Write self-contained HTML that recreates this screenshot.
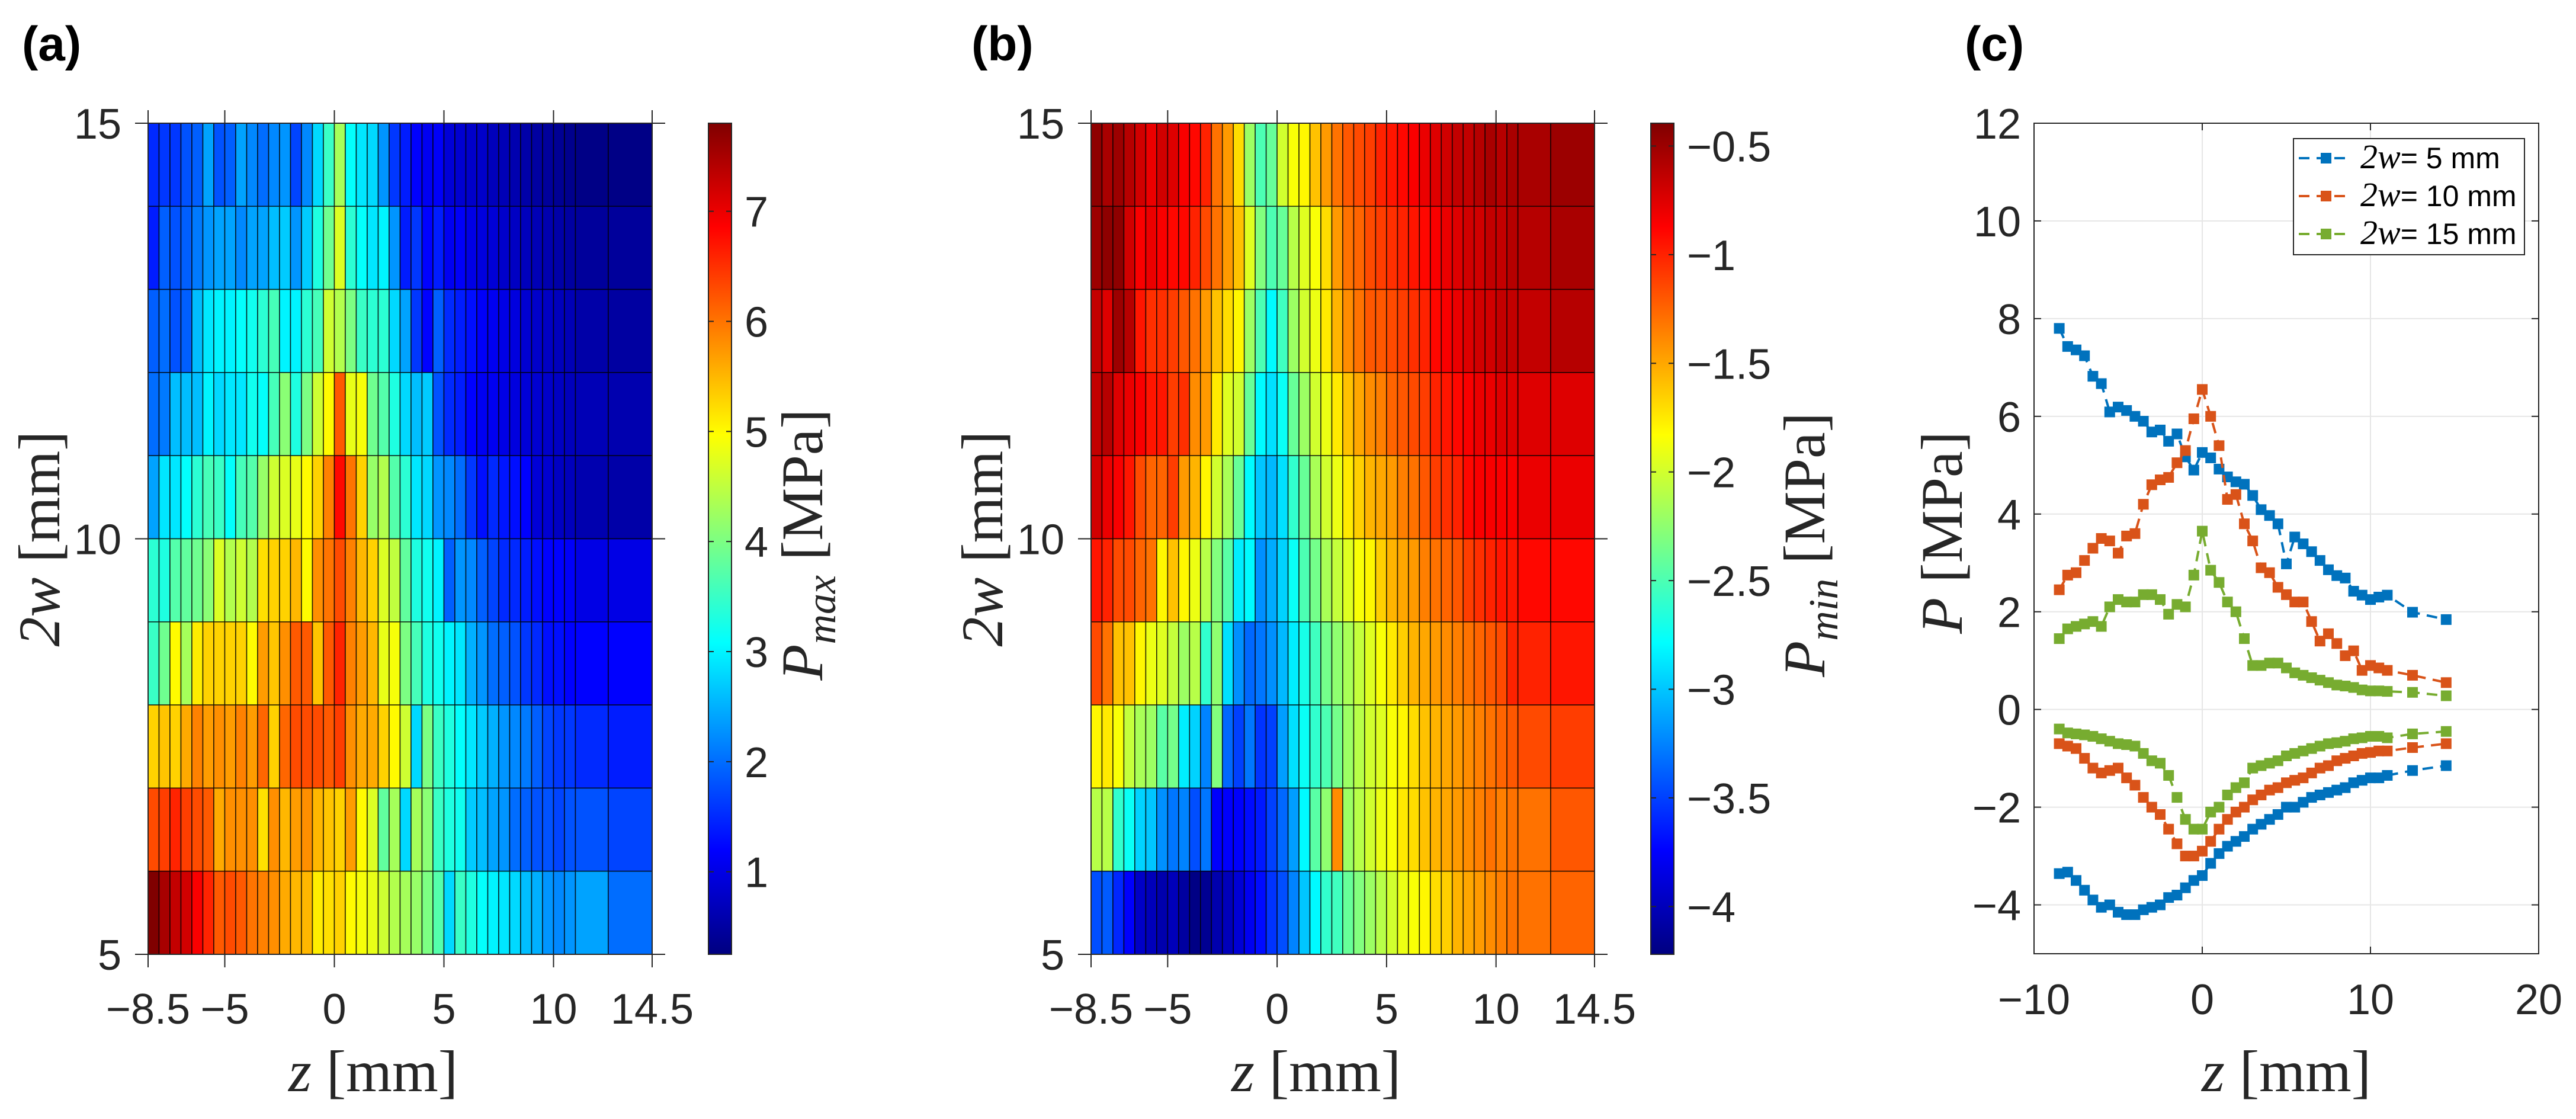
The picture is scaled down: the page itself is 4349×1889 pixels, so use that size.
<!DOCTYPE html>
<html><head><meta charset="utf-8"><style>
html,body{margin:0;padding:0;background:#fff;}
svg{display:block;}
</style></head><body>
<svg id="fig" xmlns="http://www.w3.org/2000/svg" width="4349" height="1889" viewBox="0 0 4349 1889">
<defs>
<linearGradient id="jetgrad" x1="0" y1="1" x2="0" y2="0">
<stop offset="0" stop-color="rgb(0,0,128)"/><stop offset="0.125" stop-color="rgb(0,0,255)"/><stop offset="0.375" stop-color="rgb(0,255,255)"/><stop offset="0.625" stop-color="rgb(255,255,0)"/><stop offset="0.875" stop-color="rgb(255,0,0)"/><stop offset="1" stop-color="rgb(128,0,0)"/>
</linearGradient>
</defs>
<g id="ga"></g>
<g id="gb"></g>
<g id="gc"></g>
<text x="37" y="102" font-family="Liberation Sans, sans-serif" font-weight="bold" font-size="82">(a)</text>
<text x="1640" y="102" font-family="Liberation Sans, sans-serif" font-weight="bold" font-size="82">(b)</text>
<text x="3317" y="102" font-family="Liberation Sans, sans-serif" font-weight="bold" font-size="82">(c)</text>
</svg>
<script>
// ---- data ----
const zEdges = [-8.5,-8,-7.5,-7,-6.5,-6,-5.5,-5,-4.5,-4,-3.5,-3,-2.5,-2,-1.5,-1,-0.5,0,0.5,1,1.5,2,2.5,3,3.5,4,4.5,5,5.5,6,6.5,7,7.5,8,8.5,9,9.5,10,10.5,11,12.5,14.5];
const wEdges = [5,6,7,8,9,10,11,12,13,14,15];
// rows listed from top (2w 14-15) to bottom (2w 5-6)
const pmaxRows = [
[1.5,1.6,1.6,1.8,1.9,2.4,1.8,1.9,2.4,2.2,2.0,2.2,2.3,1.7,2.2,2.8,3.5,4.3,3.1,2.9,2.8,2.3,1.6,1.4,1.2,1.1,1.15,0.9,0.85,0.8,0.8,0.7,0.65,0.6,0.55,0.5,0.45,0.4,0.35,0.3,0.3],
[1.4,1.9,1.8,1.9,2.1,2.3,2.4,2.4,2.2,2.4,2.4,2.6,2.7,2.3,2.7,3.3,3.9,4.7,3.4,3.1,2.9,3.0,2.3,1.4,1.6,1.2,1.4,1.1,1.15,1.0,0.95,0.9,0.8,0.75,0.7,0.65,0.6,0.55,0.5,0.45,0.45],
[1.9,2.0,1.8,1.9,2.6,2.9,3.0,3.0,3.1,3.2,3.4,3.6,3.0,3.0,3.4,3.6,4.6,4.4,4.0,3.5,3.4,3.4,2.8,2.4,1.6,1.2,1.9,1.5,1.4,1.3,1.15,1.1,1.0,0.95,0.85,0.8,0.75,0.7,0.65,0.55,0.5],
[2.0,2.1,2.6,2.6,2.6,3.0,2.8,2.9,2.9,3.2,3.1,3.6,4.1,3.3,4.0,4.6,5.0,6.2,4.8,4.9,3.9,3.7,3.3,2.8,2.6,2.7,1.8,1.5,1.4,1.2,1.1,1.1,1.0,0.95,0.9,0.85,0.8,0.75,0.7,0.65,0.6],
[2.4,2.9,2.9,3.1,3.4,3.6,3.5,3.1,3.6,3.7,4.2,4.6,4.7,4.8,5.0,5.3,5.9,6.8,6.0,5.3,4.2,4.4,3.7,3.4,2.9,2.8,2.3,2.2,2.0,1.6,1.3,1.5,1.35,1.3,1.2,0.9,0.85,0.75,0.7,0.6,0.55],
[3.4,3.3,3.7,3.8,3.9,4.1,4.7,4.4,4.6,4.4,5.2,5.3,5.3,5.5,5.0,5.8,6.0,6.3,5.9,5.5,5.3,4.7,4.5,3.8,3.3,3.2,3.0,1.9,2.3,2.2,1.9,1.7,1.5,1.5,1.4,1.3,1.2,1.2,1.15,1.0,1.0],
[3.5,3.9,5.0,4.3,5.1,5.3,5.3,5.3,5.3,5.0,5.7,5.4,5.8,6.2,6.2,5.4,6.2,6.6,5.9,5.7,5.5,4.8,4.9,4.0,3.6,3.3,3.2,3.0,2.9,2.5,2.3,2.0,1.9,1.8,1.6,1.5,1.3,1.3,1.2,1.2,1.2],
[5.3,5.4,5.3,5.6,5.9,5.7,5.8,5.7,5.9,5.7,6.1,5.3,6.1,6.3,6.3,6.3,6.2,6.4,5.8,5.6,5.6,5.3,5.0,4.6,2.8,4.0,3.5,3.3,3.1,2.9,2.7,2.5,2.3,2.2,2.1,1.9,1.7,1.6,1.6,1.5,1.4],
[6.3,6.4,6.6,6.4,6.3,6.2,5.6,5.8,5.8,5.8,5.2,5.8,5.5,5.7,5.8,5.5,5.4,5.3,5.7,5.0,4.7,3.8,4.3,2.8,4.3,4.1,3.5,3.3,3.2,2.7,2.6,2.4,2.3,2.0,1.9,1.8,1.8,1.7,1.8,1.8,1.7],
[7.8,7.5,7.3,7.2,6.9,6.6,6.2,6.3,6.2,6.0,5.9,5.8,5.6,5.5,5.5,5.1,5.2,5.3,5.0,4.9,4.8,4.6,4.4,4.3,4.2,4.0,3.7,2.8,3.5,3.3,3.1,3.0,2.9,2.8,2.6,2.5,2.3,2.2,2.3,2.4,2.0]
];
const pminRows = [
[-0.45,-0.55,-0.5,-0.6,-0.7,-0.8,-0.7,-0.75,-0.85,-0.9,-1.0,-1.3,-1.45,-1.7,-2.2,-2.5,-2.4,-2.0,-1.85,-1.8,-1.6,-1.45,-1.3,-1.2,-1.15,-1.1,-1.0,-0.95,-0.9,-0.85,-0.8,-0.75,-0.7,-0.65,-0.65,-0.6,-0.55,-0.6,-0.55,-0.55,-0.5],
[-0.5,-0.45,-0.45,-0.7,-0.85,-0.8,-0.85,-0.9,-0.9,-1.0,-1.15,-1.3,-1.45,-1.6,-1.95,-2.3,-2.5,-2.4,-2.1,-1.95,-1.85,-1.7,-1.45,-1.3,-1.25,-1.15,-1.1,-1.05,-1.0,-0.95,-0.9,-0.85,-0.8,-0.75,-0.7,-0.7,-0.65,-0.65,-0.6,-0.6,-0.55],
[-0.65,-0.75,-0.5,-0.6,-0.95,-1.05,-1.05,-1.1,-1.2,-1.3,-1.45,-1.6,-1.7,-1.8,-2.2,-2.5,-2.8,-2.55,-2.2,-2.0,-1.9,-1.75,-1.55,-1.4,-1.3,-1.2,-1.2,-1.15,-1.1,-1.05,-1.0,-0.9,-0.85,-0.8,-0.75,-0.7,-0.7,-0.65,-0.65,-0.65,-0.6],
[-0.65,-0.6,-0.75,-0.8,-0.85,-0.95,-0.95,-1.1,-1.05,-1.4,-1.45,-1.75,-1.95,-2.0,-2.4,-2.8,-2.9,-2.75,-2.4,-2.2,-2.0,-1.9,-1.75,-1.6,-1.5,-1.4,-1.35,-1.25,-1.2,-1.15,-1.1,-1.0,-0.95,-0.9,-0.85,-0.8,-0.8,-0.75,-0.75,-0.75,-0.75],
[-0.7,-0.8,-0.85,-0.95,-1.15,-1.25,-1.25,-1.1,-1.45,-1.55,-1.8,-2.0,-2.15,-2.4,-2.8,-3.0,-3.05,-2.9,-2.6,-2.4,-2.15,-2.0,-1.9,-1.75,-1.65,-1.55,-1.5,-1.45,-1.35,-1.3,-1.2,-1.1,-1.05,-1.0,-0.9,-0.85,-0.85,-0.85,-0.85,-0.8,-0.8],
[-0.95,-1.0,-1.15,-1.15,-1.25,-1.3,-1.8,-1.6,-1.8,-1.9,-2.1,-2.3,-2.45,-2.85,-2.8,-3.2,-3.1,-2.95,-2.75,-2.5,-2.35,-2.15,-2.05,-1.95,-1.85,-1.8,-1.65,-1.55,-1.5,-1.45,-1.35,-1.3,-1.25,-1.2,-1.1,-1.05,-1.0,-0.95,-0.95,-0.9,-0.9],
[-1.15,-1.3,-1.6,-1.6,-1.8,-1.9,-1.95,-2.05,-2.2,-2.1,-2.6,-2.25,-2.9,-3.2,-3.35,-3.3,-3.2,-3.05,-2.85,-2.7,-2.55,-2.35,-2.25,-2.15,-2.05,-1.95,-1.85,-1.75,-1.65,-1.55,-1.5,-1.45,-1.4,-1.35,-1.3,-1.25,-1.2,-1.15,-1.0,-1.0,-0.95],
[-1.8,-1.75,-1.85,-2.05,-2.15,-2.2,-2.45,-2.35,-2.85,-2.95,-3.25,-2.3,-3.35,-3.5,-3.3,-3.55,-3.5,-3.15,-2.9,-2.75,-2.6,-2.5,-2.35,-2.2,-2.1,-2.0,-1.95,-1.85,-1.8,-1.7,-1.6,-1.55,-1.5,-1.45,-1.4,-1.35,-1.3,-1.25,-1.2,-1.15,-1.1],
[-2.1,-2.1,-2.6,-2.75,-2.95,-3.0,-3.2,-3.3,-3.25,-3.45,-3.3,-3.75,-3.75,-3.75,-3.7,-3.65,-3.5,-3.35,-3.15,-2.8,-2.45,-2.25,-1.4,-2.2,-2.1,-2.0,-1.9,-1.85,-1.75,-1.7,-1.6,-1.55,-1.5,-1.45,-1.4,-1.35,-1.3,-1.35,-1.3,-1.3,-1.2],
[-3.45,-3.4,-3.6,-3.75,-3.95,-4.0,-4.05,-4.0,-4.1,-4.2,-4.15,-4.05,-4.0,-3.9,-3.8,-3.7,-3.55,-3.45,-3.25,-3.0,-2.8,-2.6,-2.55,-2.4,-2.3,-2.2,-2.1,-2.0,-1.9,-1.85,-1.8,-1.7,-1.65,-1.55,-1.5,-1.45,-1.4,-1.35,-1.3,-1.3,-1.25]
];
const heatXTicks = [-8.5,-5,0,5,10,14.5];
const heatXTickLabels = ["\u22128.5","\u22125","0","5","10","14.5"];
const heatYTicks = [5,10,15];
const cbATicks = [1,2,3,4,5,6,7];
const cbBTicks = [-0.5,-1,-1.5,-2,-2.5,-3,-3.5,-4];
const cbBTickLabels = ["\u22120.5","\u22121","\u22121.5","\u22122","\u22122.5","\u22123","\u22123.5","\u22124"];

const zLine = [-8.5,-8,-7.5,-7,-6.5,-6,-5.5,-5,-4.5,-4,-3.5,-3,-2.5,-2,-1.5,-1,-0.5,0,0.5,1,1.5,2,2.5,3,3.5,4,4.5,5,5.5,6,6.5,7,7.5,8,8.5,9,9.5,10,10.5,11,12.5,14.5];
const max5 = [7.8,7.43,7.36,7.24,6.82,6.67,6.09,6.19,6.12,6.0,5.9,5.68,5.72,5.49,5.64,5.17,4.9,5.26,5.15,4.92,4.76,4.66,4.61,4.38,4.09,3.97,3.8,2.98,3.53,3.39,3.23,3.05,2.86,2.74,2.69,2.42,2.34,2.25,2.3,2.34,1.99,1.84];
const max10 = [2.45,2.75,2.8,3.05,3.3,3.5,3.45,3.2,3.55,3.6,4.2,4.6,4.7,4.75,5.05,5.3,5.95,6.55,6.0,5.4,4.3,4.4,3.8,3.45,2.9,2.8,2.5,2.35,2.2,2.2,1.8,1.4,1.55,1.35,1.1,1.2,0.8,0.9,0.85,0.8,0.7,0.55];
const max15 = [1.45,1.65,1.7,1.75,1.8,1.7,2.1,2.25,2.2,2.2,2.35,2.35,2.25,1.95,2.15,2.1,2.75,3.65,2.85,2.6,2.2,2.0,1.45,0.9,0.9,0.95,0.95,0.85,0.75,0.7,0.65,0.6,0.55,0.5,0.48,0.45,0.4,0.38,0.38,0.37,0.35,0.28];
const min5 = [-3.36,-3.33,-3.5,-3.7,-3.9,-4.05,-4.0,-4.15,-4.2,-4.2,-4.1,-4.05,-4.0,-3.85,-3.8,-3.65,-3.5,-3.4,-3.15,-2.95,-2.8,-2.7,-2.6,-2.45,-2.35,-2.25,-2.15,-2.0,-2.0,-1.9,-1.8,-1.75,-1.7,-1.65,-1.6,-1.5,-1.45,-1.4,-1.4,-1.35,-1.25,-1.15];
const min10 = [-0.7,-0.75,-0.8,-1.0,-1.2,-1.3,-1.25,-1.2,-1.4,-1.55,-1.8,-2.0,-2.15,-2.45,-2.75,-3.0,-3.0,-2.9,-2.7,-2.45,-2.25,-2.1,-2.0,-1.85,-1.75,-1.65,-1.6,-1.5,-1.45,-1.4,-1.3,-1.2,-1.15,-1.05,-1.0,-0.95,-0.9,-0.88,-0.85,-0.85,-0.78,-0.7];
const min15 = [-0.4,-0.48,-0.5,-0.52,-0.55,-0.6,-0.65,-0.7,-0.72,-0.75,-0.9,-1.05,-1.1,-1.35,-1.8,-2.25,-2.45,-2.45,-2.1,-2.0,-1.75,-1.6,-1.5,-1.2,-1.15,-1.1,-1.05,-0.95,-0.9,-0.85,-0.8,-0.75,-0.7,-0.68,-0.65,-0.6,-0.58,-0.55,-0.55,-0.58,-0.5,-0.45];
const lineXTicks = [-10,0,10,20];
const lineXTickLabels = ["\u221210","0","10","20"];
const lineYTicks = [-4,-2,0,2,4,6,8,10,12];
const lineYTickLabels = ["\u22124","\u22122","0","2","4","6","8","10","12"];
const seriesNames = ["5 mm","10 mm","15 mm"];

// ---- helpers ----
const NS = "http://www.w3.org/2000/svg";
function mk(parent, tag, attrs, txt){const e=document.createElementNS(NS,tag);for(const k in attrs)e.setAttribute(k,attrs[k]);if(txt!==undefined)e.textContent=txt;parent.appendChild(e);return e;}
function clamp(v){return Math.max(0,Math.min(1,v));}
function jet(t){t=clamp(t);const r=clamp(1.5-Math.abs(4*t-3)),g=clamp(1.5-Math.abs(4*t-2)),b=clamp(1.5-Math.abs(4*t-1));return `rgb(${Math.round(r*255)},${Math.round(g*255)},${Math.round(b*255)})`;}
const AX="#262626", SANS="Liberation Sans, sans-serif", SERIF="Liberation Serif, serif";
const TOP=208, BOT=1611;

function heat(g, x0, W, rows, cmin, cmax, cbTicks, cbLabels, cbLabelX, cbName){
  const xs = z => x0 + (z - zEdges[0])/(zEdges[zEdges.length-1]-zEdges[0])*W;
  const ys = w => TOP + (15 - w)/10*(BOT-TOP);
  const cells = mk(g,"g",{});
  
  
  const nr = rows.length;
  for(let r=0;r<nr;r++){
    const wTop = wEdges[wEdges.length-1-r], wBot = wEdges[wEdges.length-2-r];
    for(let c=0;c<rows[r].length;c++){
      const v = rows[r][c];
      const xa = xs(zEdges[c]), xb = xs(zEdges[c+1]);
      const rc = mk(cells,"rect",{x:xa,y:ys(wTop),width:xb-xa,height:ys(wBot)-ys(wTop),fill:jet((v-cmin)/(cmax-cmin)),stroke:"#000","stroke-width":1.6,"stroke-opacity":0.75});
      
      
    }
  }
  // axes box
  const box = mk(g,"rect",{x:x0,y:TOP,width:W,height:BOT-TOP,fill:"none",stroke:AX,"stroke-width":2});
  
  
  heatXTicks.forEach((t,i)=>{
    const x=xs(t);
    mk(g,"line",{x1:x,y1:BOT,x2:x,y2:BOT+22,stroke:AX,"stroke-width":2});
    mk(g,"line",{x1:x,y1:TOP,x2:x,y2:TOP-22,stroke:AX,"stroke-width":2});
    const tl = mk(g,"text",{x:x,y:1728,"text-anchor":"middle","font-family":SANS,"font-size":72,fill:AX},heatXTickLabels[i]);
    
    
  });
  heatYTicks.forEach(t=>{
    const y=ys(t);
    mk(g,"line",{x1:x0,y1:y,x2:x0-22,y2:y,stroke:AX,"stroke-width":2});
    mk(g,"line",{x1:x0+W,y1:y,x2:x0+W+22,y2:y,stroke:AX,"stroke-width":2});
    const tl = mk(g,"text",{x:x0-45,y:y+26,"text-anchor":"end","font-family":SANS,"font-size":72,fill:AX},String(t));
    
    
  });
  const xl = mk(g,"text",{x:x0+380,y:1842,"text-anchor":"middle","font-family":SERIF,"font-size":100,fill:AX});
  
  
  mk(xl,"tspan",{"font-style":"italic"},"z");
  mk(xl,"tspan",{}," [mm]");
  const yl = mk(g,"text",{x:0,y:0,transform:`translate(${x0-150},${(TOP+BOT)/2}) rotate(-90)`,"text-anchor":"middle","font-family":SERIF,"font-size":100,fill:AX});
  
  
  mk(yl,"tspan",{"font-style":"italic"},"2w");
  mk(yl,"tspan",{}," [mm]");
  // colorbar
  const cx = x0+W+95, cw = 39;
  const cb = mk(g,"rect",{x:cx,y:TOP,width:cw,height:BOT-TOP,fill:"url(#jetgrad)",stroke:AX,"stroke-width":2});
  
  
  const cys = v => BOT - (v-cmin)/(cmax-cmin)*(BOT-TOP);
  cbTicks.forEach((t,i)=>{
    const y=cys(t);
    mk(g,"line",{x1:cx,y1:y,x2:cx+9,y2:y,stroke:AX,"stroke-width":2});
    mk(g,"line",{x1:cx+cw,y1:y,x2:cx+cw-9,y2:y,stroke:AX,"stroke-width":2});
    const tl = mk(g,"text",{x:cx+cw+22,y:y+26,"font-family":SANS,"font-size":72,fill:AX},cbLabels[i]);
    
    
  });
  const cl = mk(g,"text",{x:0,y:0,transform:`translate(${cbLabelX},${(TOP+BOT)/2+10}) rotate(-90)`,"text-anchor":"middle","font-family":SERIF,"font-size":100,fill:AX});
  
  
  mk(cl,"tspan",{"font-style":"italic"},"P");
  mk(cl,"tspan",{"font-style":"italic","font-size":70,dy:22},cbName);
  mk(cl,"tspan",{dy:-22}," [MPa]");
}

heat(document.getElementById("ga"),250,851,pmaxRows,0.25,7.8,cbATicks,cbATicks.map(String),1388,"max");
heat(document.getElementById("gb"),1842,850,pminRows,-4.22,-0.395,cbBTicks,cbBTickLabels,3080,"min");

// ---- panel c ----
(function(){
  const g=document.getElementById("gc");
  const X0=3434,X1=4286,Y0=TOP,Y1=1610;
  const xs=z=>X0+(z+10)/30*(X1-X0);
  const ys=p=>Y0+(12-p)/17*(Y1-Y0);
  mk(g,"rect",{x:X0,y:Y0,width:X1-X0,height:Y1-Y0,fill:"#fff"});
  lineXTicks.forEach(t=>{const gl=mk(g,"line",{x1:xs(t),y1:Y0,x2:xs(t),y2:Y1,stroke:"#e6e6e6","stroke-width":2});});
  lineYTicks.forEach(t=>{const gl=mk(g,"line",{x1:X0,y1:ys(t),x2:X1,y2:ys(t),stroke:"#e6e6e6","stroke-width":2});});
  const colors=["#0072BD","#D95319","#77AC30"];
  const series=[[max5,min5],[max10,min10],[max15,min15]];
  series.forEach((pair,si)=>{
    pair.forEach(arr=>{
      const pts=arr.map((v,i)=>xs(zLine[i]).toFixed(1)+","+ys(v).toFixed(1)).join(" ");
      const pl=mk(g,"polyline",{points:pts,fill:"none",stroke:colors[si],"stroke-width":4,"stroke-dasharray":"18 12"});
      
      
      arr.forEach((v,i)=>{
        const m=mk(g,"rect",{x:xs(zLine[i])-9,y:ys(v)-9,width:18,height:18,fill:colors[si]});
        
        
      });
    });
  });
  const box=mk(g,"rect",{x:X0,y:Y0,width:X1-X0,height:Y1-Y0,fill:"none",stroke:AX,"stroke-width":2});
  
  
  lineXTicks.forEach((t,i)=>{
    mk(g,"line",{x1:xs(t),y1:Y1,x2:xs(t),y2:Y1-12,stroke:AX,"stroke-width":2});
    mk(g,"line",{x1:xs(t),y1:Y0,x2:xs(t),y2:Y0+12,stroke:AX,"stroke-width":2});
    const tl=mk(g,"text",{x:xs(t),y:1712,"text-anchor":"middle","font-family":SANS,"font-size":72,fill:AX},lineXTickLabels[i]);
    
    
  });
  lineYTicks.forEach((t,i)=>{
    mk(g,"line",{x1:X0,y1:ys(t),x2:X0+12,y2:ys(t),stroke:AX,"stroke-width":2});
    mk(g,"line",{x1:X1,y1:ys(t),x2:X1-12,y2:ys(t),stroke:AX,"stroke-width":2});
    const tl=mk(g,"text",{x:X0-22,y:ys(t)+26,"text-anchor":"end","font-family":SANS,"font-size":72,fill:AX},lineYTickLabels[i]);
    
    
  });
  const xl=mk(g,"text",{x:(X0+X1)/2,y:1842,"text-anchor":"middle","font-family":SERIF,"font-size":100,fill:AX});
  
  
  mk(xl,"tspan",{"font-style":"italic"},"z");
  mk(xl,"tspan",{}," [mm]");
  const yl=mk(g,"text",{x:0,y:0,transform:`translate(3312,${(Y0+Y1)/2-10}) rotate(-90)`,"text-anchor":"middle","font-family":SERIF,"font-size":100,fill:AX});
  
  
  mk(yl,"tspan",{"font-style":"italic"},"P");
  mk(yl,"tspan",{}," [MPa]");
  // legend
  const lg=mk(g,"g",{});
  
  
  mk(lg,"rect",{x:3872,y:234,width:390,height:196,fill:"#fff",stroke:AX,"stroke-width":2});
  seriesNames.forEach((nm,i)=>{
    const y=267+i*64;
    const ent=mk(lg,"g",{});
    
    
    mk(ent,"line",{x1:3881,y1:y,x2:3969,y2:y,stroke:colors[i],"stroke-width":4,"stroke-dasharray":"18 12"});
    mk(ent,"rect",{x:3918,y:y-9,width:18,height:18,fill:colors[i]});
    const t=mk(ent,"text",{x:3985,y:y+17,"font-family":SANS,"font-size":50,fill:"#000"});
    mk(t,"tspan",{"font-family":SERIF,"font-style":"italic","font-size":58},"2w");
    mk(t,"tspan",{},"= "+nm);
  });
})();
</script>
</body></html>
